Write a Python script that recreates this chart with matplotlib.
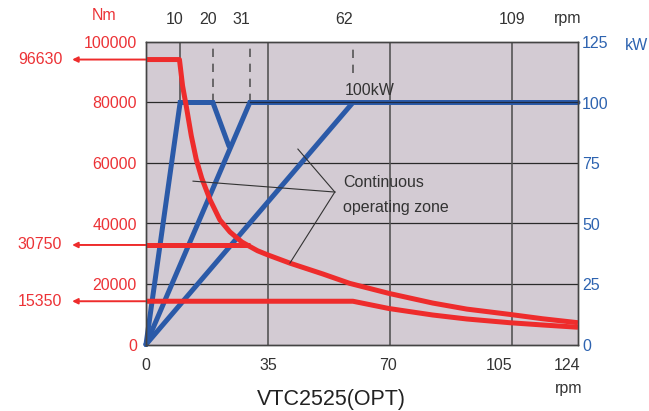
# Torque / power chart for VTC2525(OPT)

import matplotlib.pyplot as plt

plt.rcParams['font.family'] = ['Liberation Sans', 'DejaVu Sans']

# --------------------------- DATA ---------------------------

# Peak torque curve (S6 short time) [rpm] / [Nm].
peak_rpm = [0, 9.6, 10.5, 11.6, 13.0, 14.4, 16.0, 18.4, 21.2, 24.1, 27.5, 29.8, 32.0, 35.0, 41.3, 50.8, 58.5, 69.7, 82.3, 92.1, 104.4, 113.9, 124]
peak_nm = [94200, 94200, 85500, 78500, 69000, 61300, 55000, 47800, 41200, 37200, 33900, 32400, 31000, 29600, 26900, 23300, 20200, 16900, 13700, 11700, 9950, 8500, 7200]

# Intermediate torque level [rpm] / [Nm].
mid_rpm = [0, 29.8]
mid_nm = [32900, 32900]

# Continuous torque curve [rpm] / [Nm].
cont_rpm = [0, 59.4, 69.7, 82.3, 92.1, 104.4, 113.9, 124]
cont_nm = [14300, 14300, 11900, 9750, 8430, 7200, 6450, 5700]

# Power lines [rpm] / [kW].
pow_a_rpm = [0, 9.8, 19.2, 23.8]
pow_a_kw = [0, 100, 100, 82]
pow_b_rpm = [0, 29.8, 124]
pow_b_kw = [0, 100, 100]
pow_c_rpm = [0, 59.4]
pow_c_kw = [0, 100]

# Torque levels marked on the left.
level_nm = [94200, 32900, 14300]
level_labels = ['96630', '30750', '15350']

# Axis ticks.
left_ticks = [0, 20000, 40000, 60000, 80000, 100000]
right_ticks = [0, 25, 50, 75, 100, 125]
bottom_pos = [0, 35, 69.4, 101.4, 121]
bottom_labels = ['0', '35', '70', '105', '124']
top_pos = [8.3, 17.8, 27.3, 56.8, 105.0]
top_labels = ['10', '20', '31', '62', '109']

# Grid lines [rpm].
solid_vlines = [35, 70, 105]
short_solid_vlines = [9.8]
dashed_vlines = [19.2, 29.8]
dashed_62 = 59.4

# --------------------------- STYLE ---------------------------

red = '#ee2c2c'
red_txt = '#ec3236'
blue = '#2b5aa8'
blue_txt = '#2d63b0'
dark = '#333333'
bg = '#d3cbd3'

# --------------------------- PLOT ---------------------------

fig = plt.figure(figsize=(6.49, 4.11), dpi=100)
ax = fig.add_axes([146 / 649, 1 - 344.5 / 411, 432 / 649, 302.5 / 411])
ax.set_facecolor(bg)
ax.set_xlim(0, 124)
ax.set_ylim(0, 100000)

ax2 = ax.twinx()
ax2.set_ylim(0, 125)
ax2.patch.set_visible(False)

# Grid.
for y in [20000, 40000, 60000, 80000]:
    ax.axhline(y, color='#2a2a2a', lw=0.9, zorder=1)
ax.vlines(solid_vlines, 0, 100000, color='#555555', lw=1.2, zorder=1)
ax.vlines(short_solid_vlines, 80000, 100000, color='#555555', lw=1.2, zorder=1)
ax.vlines(dashed_vlines, 80000, 100000, color='#555555', lw=1.2, linestyles=(0, (5, 4)), zorder=1)
ax.vlines([dashed_62], 89800, 100000, color='#555555', lw=1.2, linestyles=(0, (5, 4)), zorder=1)

# Power lines (drawn in kW, below the torque curves).
for xs, ys in [(pow_a_rpm, pow_a_kw), (pow_b_rpm, pow_b_kw), (pow_c_rpm, pow_c_kw)]:
    ax.plot(xs, ys, color=blue, lw=3.6, solid_capstyle='round', solid_joinstyle='miter',
            transform=ax2.transData, zorder=2, clip_on=False)
ax.axhline(80000, xmin=29.8 / 124, color='#1e2a40', lw=0.9, zorder=3)

# Torque curves.
for xs, ys in [(peak_rpm, peak_nm), (mid_rpm, mid_nm), (cont_rpm, cont_nm)]:
    ax.plot(xs, ys, color=red, lw=3.6, solid_capstyle='butt', solid_joinstyle='round', zorder=4)

# Leader lines for the continuous zone note.
lx, ly = 54.2, 50400
for tx, ty in [(13.5, 54000), (43.6, 64600), (41.3, 26900)]:
    ax.plot([lx, tx], [ly, ty], color=dark, lw=0.8, zorder=5)
ax.text(56.5, 52100, 'Continuous', color=dark, fontsize=11.5, va='baseline', zorder=6)
ax.text(56.5, 43900, 'operating zone', color=dark, fontsize=11.5, va='baseline', zorder=6)
ax.text(57.1, 82500, '100kW', color=dark, fontsize=11.5, va='baseline', zorder=6)

# Left torque level markers with arrows.
for lv, lab in zip(level_nm, level_labels):
    ax.annotate('', xy=(-0.171, lv), xycoords=('axes fraction', 'data'),
                xytext=(0, lv), textcoords=('axes fraction', 'data'),
                arrowprops=dict(arrowstyle='-|>', color=red, lw=1.4, mutation_scale=8,
                                shrinkA=0, shrinkB=0), annotation_clip=False)
    ax.text(-0.194, lv, lab, transform=ax.get_yaxis_transform(), color=red_txt,
            fontsize=11.5, ha='right', va='center')

# Axis ticks and labels.
ax.set_yticks(left_ticks, [str(t) for t in left_ticks])
ax.tick_params(axis='y', length=0, pad=6.5, labelcolor=red_txt, labelsize=11.5)
ax2.set_yticks(right_ticks, [str(t) for t in right_ticks])
ax2.tick_params(axis='y', length=0, pad=3, labelcolor=blue_txt, labelsize=11.5)
ax.set_xticks(bottom_pos, bottom_labels)
ax.tick_params(axis='x', length=0, pad=10, labelcolor=dark, labelsize=11.5)

for x, lab in zip(top_pos, top_labels):
    ax.annotate(lab, xy=(x, 1), xycoords=('data', 'axes fraction'), xytext=(0, 16.5),
                textcoords='offset points', ha='center', va='center', color=dark, fontsize=11.5)

for sp in list(ax.spines.values()) + list(ax2.spines.values()):
    sp.set_color('#444444')
    sp.set_linewidth(1.0)

# Units and title.
fig.text(104 / 649, 1 - 16 / 411, 'Nm', color=red_txt, fontsize=11.5, ha='center', va='center')
fig.text(636 / 649, 1 - 45 / 411, 'kW', color=blue_txt, fontsize=11.5, ha='center', va='center')
fig.text(568 / 649, 1 - 18 / 411, 'rpm', color=dark, fontsize=11.5, ha='center', va='center')
fig.text(569 / 649, 1 - 388 / 411, 'rpm', color=dark, fontsize=11.5, ha='center', va='center')
fig.text(331 / 649, 1 - 399.5 / 411, 'VTC2525(OPT)', color='#222222', fontsize=15.5, ha='center', va='center')

fig.savefig('out.png', dpi=100)
